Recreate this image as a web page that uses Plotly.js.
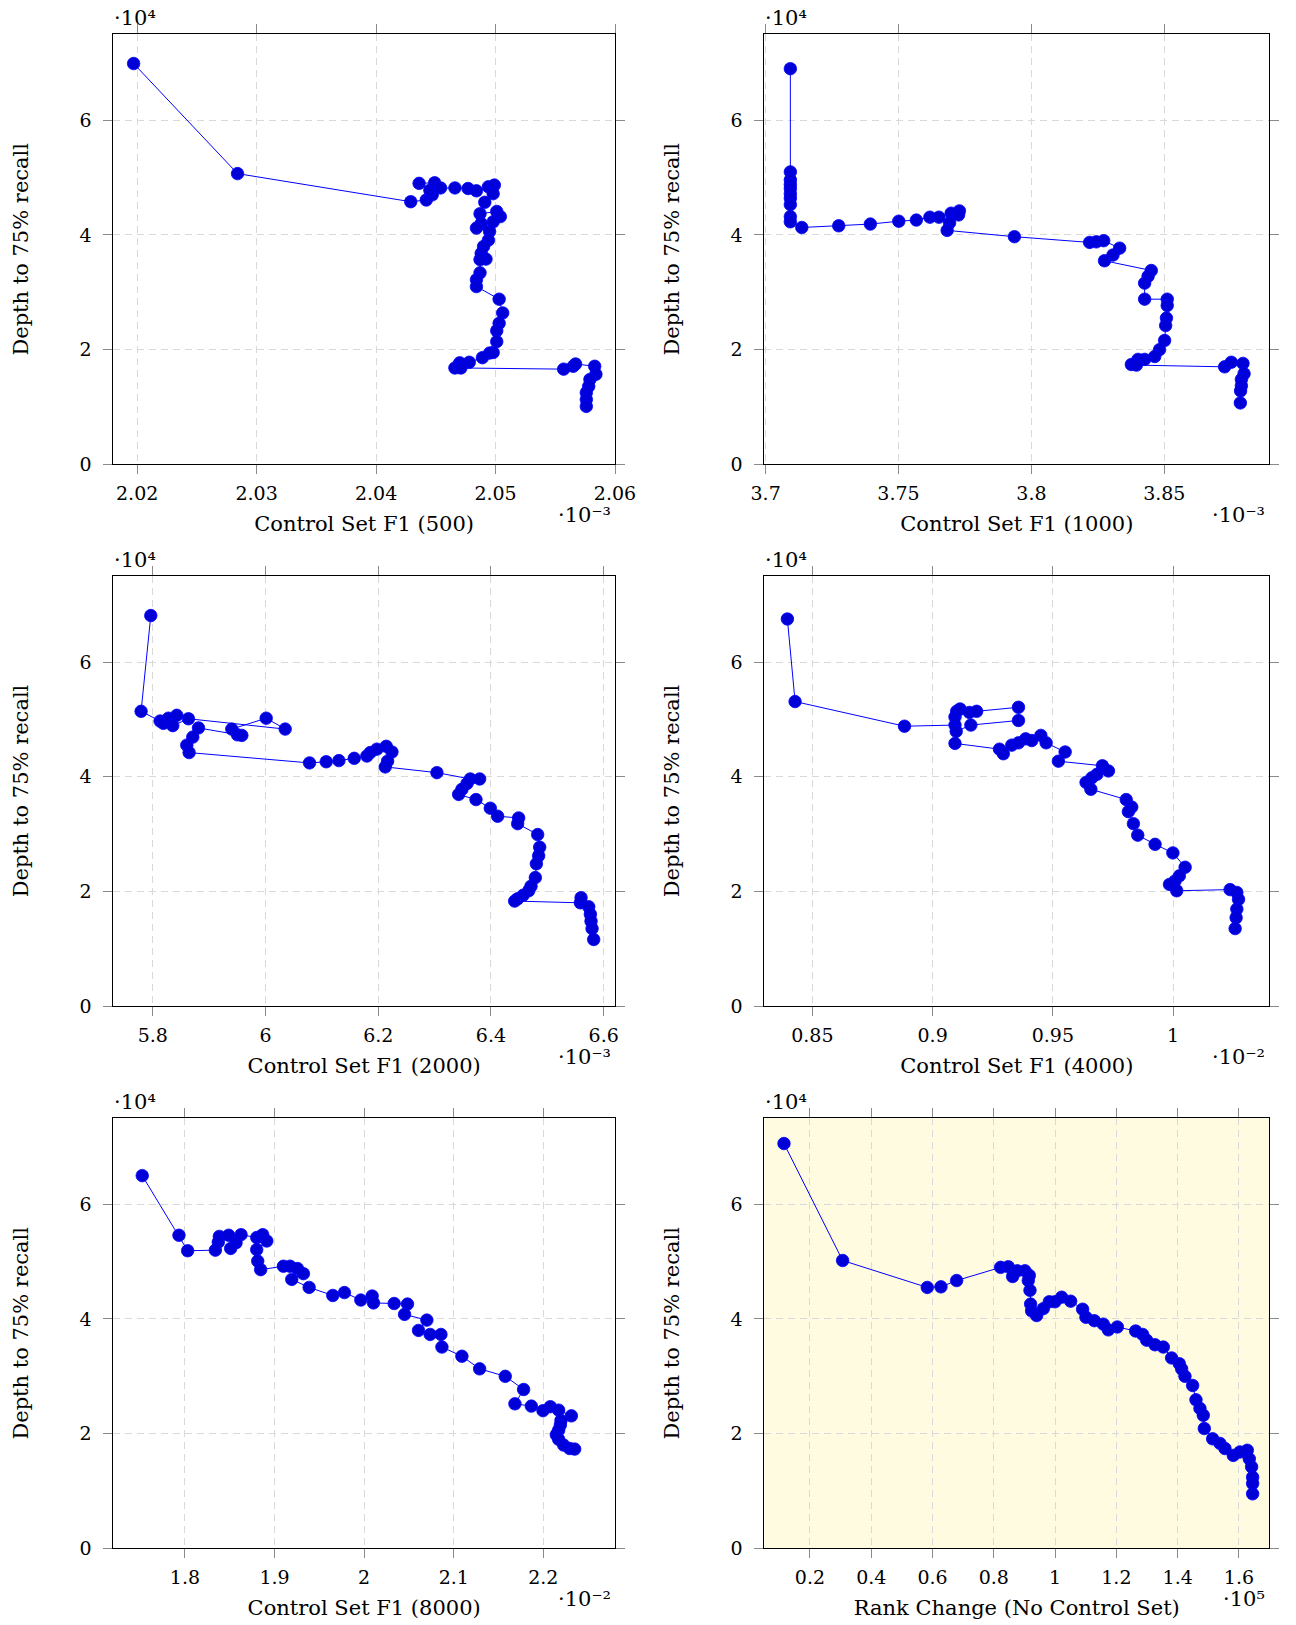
<!DOCTYPE html>
<html>
<head>
<meta charset="utf-8">
<script src="https://cdn.plot.ly/plotly-3.0.1.min.js"></script>
<style>html,body{margin:0;padding:0;background:#fff;}#chart{width:1296px;height:1625px;}</style>
</head>
<body>
<div id="chart"></div>
<script>
// ---- Data (x in the axis display units shown on the tick labels; y = depth) ----
// Control Set F1 (500), ×10^-3
const f1_500 = [2.0197, 2.0284, 2.0429, 2.0442, 2.0447, 2.0445, 2.0436, 2.0449, 2.0454, 2.0466, 2.0477, 2.0484, 2.0494, 2.0499, 2.0498, 2.0491, 2.0487, 2.0501, 2.0504, 2.0498, 2.0488, 2.0484, 2.0495, 2.0494, 2.0490, 2.0488, 2.0492, 2.0487, 2.0487, 2.0484, 2.0484, 2.0503, 2.0506, 2.0503, 2.0501, 2.0501, 2.0498, 2.0495, 2.0489, 2.0478, 2.0470, 2.0466, 2.0471, 2.0557, 2.0565, 2.0567, 2.0583, 2.0584, 2.0579, 2.0578, 2.0576, 2.0576, 2.0576];
const depth_500 = [69900, 50700, 45800, 46100, 47000, 47800, 49000, 49100, 48200, 48200, 48100, 47700, 48400, 48700, 47200, 45700, 43700, 44100, 43200, 42300, 42000, 41200, 40600, 39100, 38000, 36800, 35800, 35700, 33400, 32200, 31000, 28800, 26400, 24600, 23300, 21400, 19500, 19400, 18600, 17800, 17700, 16800, 16800, 16600, 17100, 17500, 17100, 15700, 14800, 13600, 12500, 11300, 10100];

// Control Set F1 (1000), ×10^-3
const f1_1000 = [3.7093, 3.7093, 3.7093, 3.7093, 3.7093, 3.7093, 3.7093, 3.7093, 3.7093, 3.7093, 3.7136, 3.7275, 3.7394, 3.7501, 3.7567, 3.7618, 3.7652, 3.7698, 3.7729, 3.7726, 3.7692, 3.7683, 3.7936, 3.8219, 3.8244, 3.8272, 3.8332, 3.8307, 3.8275, 3.8451, 3.8439, 3.8426, 3.8426, 3.8511, 3.8511, 3.8508, 3.8505, 3.8501, 3.8482, 3.8464, 3.8426, 3.8401, 3.8376, 3.8395, 3.8727, 3.8752, 3.8796, 3.8800, 3.8790, 3.8790, 3.8787, 3.8786];
const depth_1000 = [69000, 51000, 49600, 48800, 48100, 47200, 46400, 45300, 43200, 42300, 41300, 41600, 41900, 42400, 42600, 43100, 43100, 43800, 44200, 43500, 42100, 40800, 39700, 38700, 38800, 39000, 37700, 36500, 35500, 33800, 32800, 31600, 28800, 28800, 27700, 25500, 24200, 21600, 20000, 18800, 18300, 18300, 17400, 17300, 17000, 17800, 17600, 15800, 14800, 13700, 12800, 10700];

// Control Set F1 (2000), ×10^-3
const f1_2000 = [5.7965, 5.7793, 5.8130, 5.8189, 5.8278, 5.8426, 5.8355, 5.8633, 6.0349, 6.0012, 5.9402, 5.9503, 5.9580, 5.8811, 5.8710, 5.8604, 5.8645, 6.0781, 6.1077, 6.1302, 6.1574, 6.1799, 6.1858, 6.1976, 6.2142, 6.2243, 6.2166, 6.2124, 6.3041, 6.3633, 6.3799, 6.3574, 6.3485, 6.3426, 6.3734, 6.3988, 6.4118, 6.4491, 6.4473, 6.4828, 6.4864, 6.4846, 6.4805, 6.4787, 6.4710, 6.4669, 6.4568, 6.4473, 6.4420, 6.5586, 6.5598, 6.5734, 6.5763, 6.5775, 6.5793, 6.5822];
const depth_2000 = [68100, 51400, 49700, 49300, 50200, 50700, 48900, 50100, 48300, 50200, 48300, 47300, 47200, 48500, 46900, 45500, 44200, 42400, 42600, 42800, 43200, 43600, 44200, 44800, 45300, 44300, 42700, 41700, 40700, 39600, 39600, 38800, 37800, 36900, 36000, 34500, 33100, 32800, 31800, 29900, 27700, 26200, 24800, 22400, 20900, 20100, 19300, 18700, 18300, 18000, 18900, 17300, 16000, 14800, 13500, 11600];

// Control Set F1 (4000), ×10^-2
const f1_4000 = [0.8396, 0.8428, 0.8883, 0.9093, 0.9093, 0.9100, 0.9114, 0.9153, 0.9183, 0.9357, 0.9357, 0.9159, 0.9098, 0.9093, 0.9278, 0.9294, 0.9329, 0.9357, 0.9387, 0.9412, 0.9450, 0.9472, 0.9551, 0.9523, 0.9706, 0.9731, 0.9683, 0.9662, 0.9638, 0.9658, 0.9805, 0.9828, 0.9814, 0.9835, 0.9853, 0.9925, 0.9999, 1.0050, 1.0026, 1.0008, 0.9985, 1.0015, 1.0237, 1.0265, 1.0272, 1.0265, 1.0262, 1.0258];
const depth_4000 = [67500, 53100, 48800, 49000, 50400, 51400, 51800, 51200, 51400, 52100, 49800, 49000, 47900, 45800, 44800, 44000, 45500, 45900, 46600, 46300, 47200, 45900, 44300, 42700, 41900, 41000, 40400, 39800, 39000, 37800, 36000, 34700, 33900, 31800, 29800, 28200, 26700, 24200, 22700, 21800, 21200, 20100, 20300, 19800, 18600, 16900, 15400, 13500];

// Control Set F1 (8000), ×10^-2
const f1_8000 = [1.7523, 1.7933, 1.8030, 1.8339, 1.8372, 1.8384, 1.8488, 1.8570, 1.8510, 1.8626, 1.8801, 1.8868, 1.8913, 1.8801, 1.8812, 1.8845, 1.9099, 1.9173, 1.9255, 1.9322, 1.9192, 1.9386, 1.9650, 1.9780, 1.9963, 2.0089, 2.0104, 2.0335, 2.0484, 2.0451, 2.0700, 2.0607, 2.0737, 2.0857, 2.0868, 2.1091, 2.1289, 2.1575, 2.1780, 2.1683, 2.1866, 2.1996, 2.2078, 2.2171, 2.2313, 2.2197, 2.2190, 2.2171, 2.2145, 2.2171, 2.2227, 2.2294, 2.2350];
const depth_8000 = [65000, 54600, 51900, 52000, 53400, 54400, 54600, 53300, 52300, 54700, 54200, 54700, 53600, 52100, 50100, 48600, 49200, 49200, 48800, 47900, 46900, 45500, 44100, 44600, 43300, 44000, 42800, 42700, 42600, 40800, 39800, 38000, 37300, 37300, 35100, 33500, 31300, 30000, 27700, 25200, 24800, 24000, 24700, 24100, 23100, 22300, 21500, 20600, 19800, 19000, 18000, 17400, 17300];

// Rank Change (No Control Set), ×10^5
const rank_change = [0.1152, 0.3066, 0.5829, 0.6275, 0.6786, 0.8222, 0.8472, 0.8614, 0.8766, 0.9016, 0.9158, 0.9125, 0.9180, 0.9201, 0.9234, 0.9397, 0.9615, 0.9810, 0.9995, 1.0213, 1.0507, 1.0898, 1.1007, 1.1279, 1.1573, 1.1736, 1.2030, 1.2628, 1.2856, 1.2987, 1.3259, 1.3531, 1.3803, 1.4053, 1.4129, 1.4238, 1.4488, 1.4597, 1.4727, 1.4836, 1.4869, 1.5141, 1.5380, 1.5543, 1.5815, 1.6033, 1.6272, 1.6337, 1.6413, 1.6446, 1.6446, 1.6446];
const depth_rank = [70600, 50200, 45500, 45600, 46700, 49000, 49100, 47400, 48400, 48400, 47600, 46700, 45000, 42600, 41400, 40600, 41800, 43000, 43000, 43800, 43100, 41700, 40300, 39700, 39100, 38100, 38600, 37900, 37300, 36300, 35500, 35100, 33200, 32200, 31300, 30000, 28400, 25900, 24400, 23200, 20900, 19100, 18300, 17400, 16200, 16800, 17100, 15600, 14200, 12400, 11300, 9500];

// ---- Tick labels ----
const yTickVals = [0, 20000, 40000, 60000];
const yTickText = ['0', '2', '4', '6'];
const xTicks500 = [2.02, 2.03, 2.04, 2.05, 2.06];
const xTickText500 = ['2.02', '2.03', '2.04', '2.05', '2.06'];
const xTicks1000 = [3.7, 3.75, 3.8, 3.85];
const xTickText1000 = ['3.7', '3.75', '3.8', '3.85'];
const xTicks2000 = [5.8, 6.0, 6.2, 6.4, 6.6];
const xTickText2000 = ['5.8', '6', '6.2', '6.4', '6.6'];
const xTicks4000 = [0.85, 0.9, 0.95, 1.0];
const xTickText4000 = ['0.85', '0.9', '0.95', '1'];
const xTicks8000 = [1.8, 1.9, 2.0, 2.1, 2.2];
const xTickText8000 = ['1.8', '1.9', '2', '2.1', '2.2'];
const xTicksRank = [0.2, 0.4, 0.6, 0.8, 1.0, 1.2, 1.4, 1.6];
const xTickTextRank = ['0.2', '0.4', '0.6', '0.8', '1', '1.2', '1.4', '1.6'];

const xTitles = ['Control Set F1 (500)', 'Control Set F1 (1000)', 'Control Set F1 (2000)',
                 'Control Set F1 (4000)', 'Control Set F1 (8000)', 'Rank Change (No Control Set)'];
const yTitle = 'Depth to 75% recall';
const xExponents = ['·10⁻³', '·10⁻³', '·10⁻³', '·10⁻²', '·10⁻²', '·10⁵'];
const yExponent = '·10⁴';

// ---- Layout geometry (pixels) ----
const W = 1296, H = 1625;
const panels = [
  {x: f1_500,  y: depth_500,  tv: xTicks500,  tt: xTickText500,  range: [2.018, 2.060], L: 113.3, R: 615,    T: 34.3,   B: 464.3},
  {x: f1_1000, y: depth_1000, tv: xTicks1000, tt: xTickText1000, range: [3.6995, 3.8895], L: 764.3, R: 1269.3, T: 34.3,   B: 464.3},
  {x: f1_2000, y: depth_2000, tv: xTicks2000, tt: xTickText2000, range: [5.73, 6.62],   L: 113.3, R: 615,    T: 576,    B: 1006},
  {x: f1_4000, y: depth_4000, tv: xTicks4000, tt: xTickText4000, range: [0.83, 1.04],   L: 764.3, R: 1269.3, T: 576,    B: 1006},
  {x: f1_8000, y: depth_8000, tv: xTicks8000, tt: xTickText8000, range: [1.72, 2.28],   L: 113.3, R: 615,    T: 1118.3, B: 1548.3},
  {x: rank_change, y: depth_rank, tv: xTicksRank, tt: xTickTextRank, range: [0.051, 1.699], L: 764.3, R: 1269.3, T: 1118.3, B: 1548.3}
];

const FONT = 'DejaVu Serif, Liberation Serif, serif';
const FS = 19, TFS = 21, EFS = 21;
const traces = [];
const layout = {
  width: W, height: H,
  margin: {l: 0, r: 0, t: 0, b: 0, pad: 0},
  paper_bgcolor: 'white', plot_bgcolor: 'rgba(0,0,0,0)',
  showlegend: false,
  font: {family: FONT, size: FS, color: 'black'},
  annotations: [], shapes: []
};

panels.forEach((p, i) => {
  const n = i + 1;
  const xa = n === 1 ? 'x' : 'x' + n;
  const ya = n === 1 ? 'y' : 'y' + n;
  traces.push({
    type: 'scatter', mode: 'lines+markers', x: p.x, y: p.y, xaxis: xa, yaxis: ya,
    line: {color: 'rgb(0,0,255)', width: 1},
    marker: {size: 12.5, color: 'rgb(0,0,215)', line: {color: 'rgb(0,0,255)', width: 0.8}},
    cliponaxis: false
  });
  const common = {
    ticks: 'outside', ticklen: 9, tickwidth: 1, tickcolor: '#8a8a8a',
    showline: true, linecolor: 'black', linewidth: 1, mirror: 'ticks',
    showgrid: true, gridcolor: '#d9d9d9', gridwidth: 1, griddash: '7px,5px',
    zeroline: false, tickfont: {family: FONT, size: FS, color: 'black'},
    tickmode: 'array', fixedrange: true, automargin: false
  };
  layout[n === 1 ? 'xaxis' : 'xaxis' + n] = Object.assign({}, common, {
    domain: [p.L / W, p.R / W], anchor: ya, range: p.range,
    tickvals: p.tv, ticktext: p.tt, ticklabelstandoff: 3,
    title: {text: xTitles[i], font: {family: FONT, size: TFS, color: 'black'}, standoff: 13}
  });
  layout[n === 1 ? 'yaxis' : 'yaxis' + n] = Object.assign({}, common, {
    domain: [1 - p.B / H, 1 - p.T / H], anchor: xa, range: [0, 75000],
    tickvals: yTickVals, ticktext: yTickText, ticklabelstandoff: 8,
    title: {text: yTitle, font: {family: FONT, size: TFS, color: 'black'}, standoff: 45}
  });
  if (n === 6) {
    layout.shapes.push({type: 'rect', xref: 'x6 domain', yref: 'y6 domain', x0: 0, x1: 1, y0: 0, y1: 1,
      fillcolor: 'rgb(255,251,224)', line: {width: 0}, layer: 'below'});
  }
  const af = {family: FONT, size: EFS, color: 'black'};
  // y exponent (·10⁴ above the y axis)
  layout.annotations.push({xref: 'paper', yref: 'paper', x: (p.L - 1) / W, y: 1 - (p.T - 2) / H,
    text: yExponent, showarrow: false, xanchor: 'left', yanchor: 'bottom', font: af});
  // x exponent (below the right end of the x axis)
  layout.annotations.push({xref: 'paper', yref: 'paper', x: (p.R - 2) / W, y: 1 - (p.B + 65) / H,
    text: xExponents[i], showarrow: false, xanchor: 'right', yanchor: 'bottom', font: af});
});

Plotly.newPlot('chart', traces, layout, {displayModeBar: false});
</script>
</body>
</html>
